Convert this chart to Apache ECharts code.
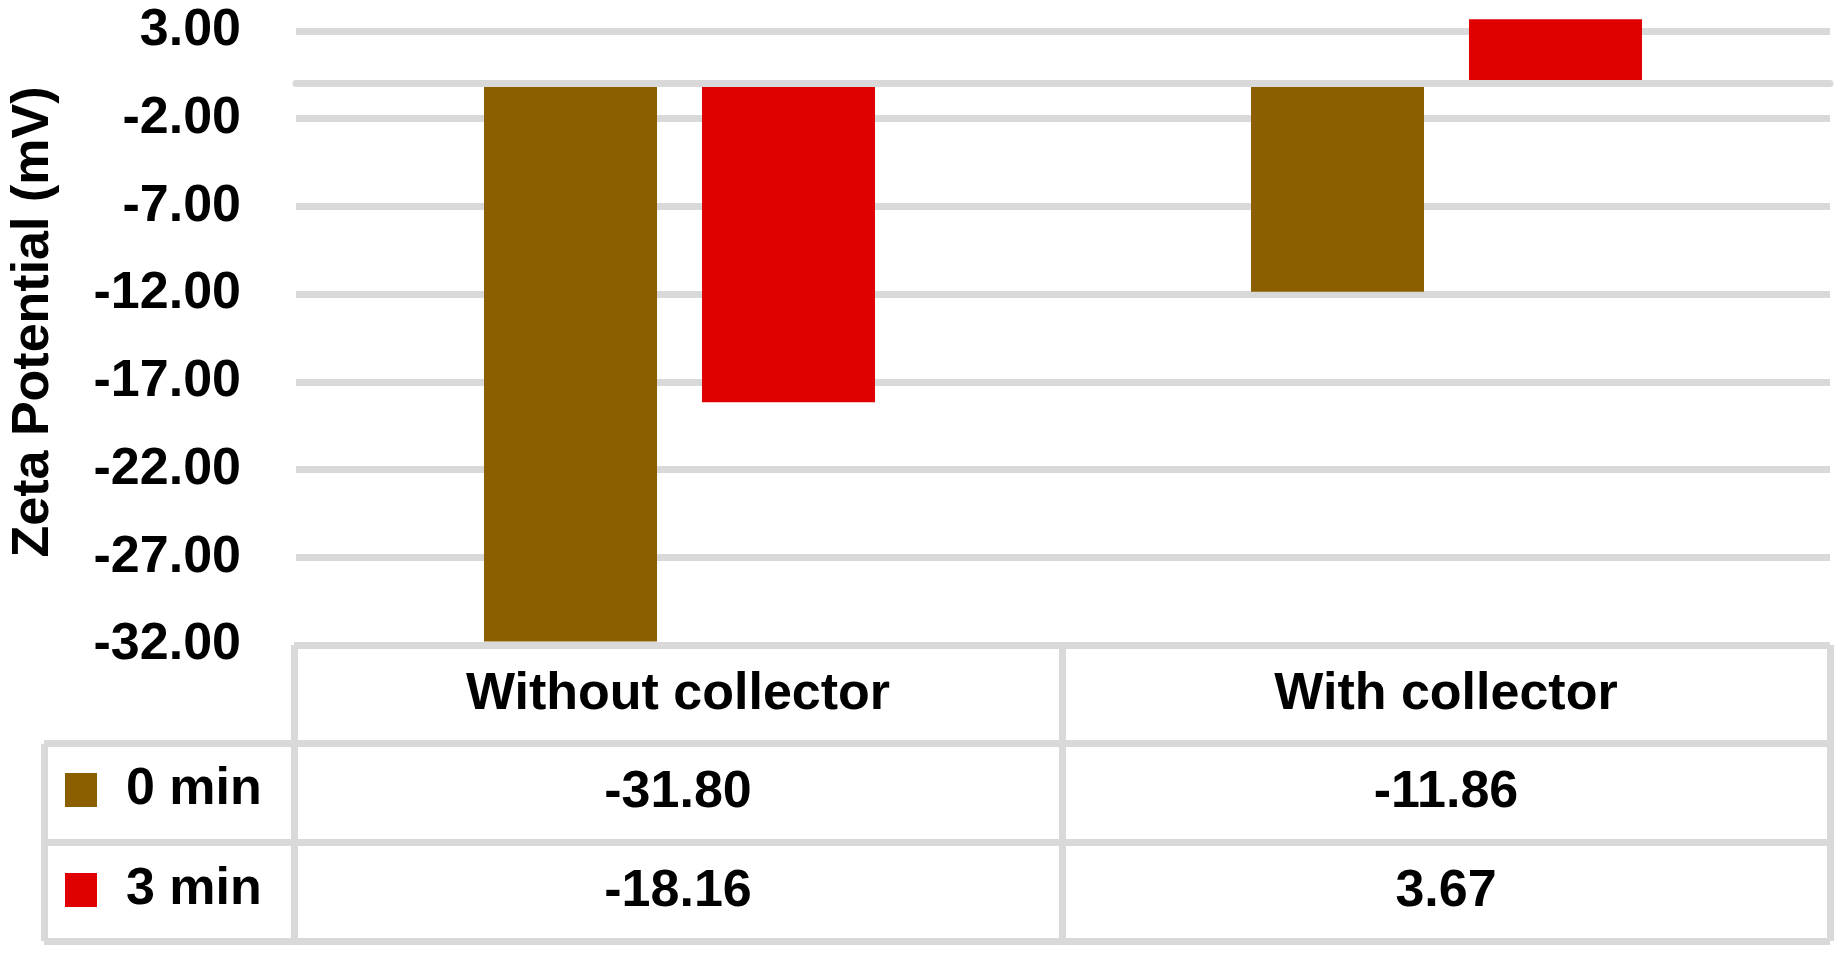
<!DOCTYPE html>
<html><head><meta charset="utf-8">
<script src="https://cdn.jsdelivr.net/npm/echarts@6/dist/echarts.min.js"></script>
<style>html,body{margin:0;padding:0;background:#fff}#c{width:1848px;height:957px}</style>
</head><body><div id="c"></div>
<script>
// ---- data ----
const categories = ['Without collector', 'With collector'];
const seriesNames = ['0 min', '3 min'];
const values0min = [-31.80, -11.86];
const values3min = [-18.16, 3.67];
const yMin = -32, yMax = 3, yStep = 5;
const tableRows = ['header', '0 min', '3 min'];
const yTitle = 'Zeta Potential (mV)';

// ---- style ----
const FONT = "'Liberation Sans', Arial, sans-serif";
const GRID_COLOR = '#d9d9d9';
const LINE_W = 7;
const colors = ['#8B5E00', '#E00000'];
const txt = {fontFamily: FONT, fontWeight: 'bold', fontSize: 52, color: '#000'};

const tableData = [];
categories.forEach((c, i) => {
  tableData.push({value: [c, 'header'], text: c});
  tableData.push({value: [c, seriesNames[0]], text: values0min[i].toFixed(2)});
  tableData.push({value: [c, seriesNames[1]], text: values3min[i].toFixed(2)});
});

const splitCat = {show: true, interval: 0, lineStyle: {color: GRID_COLOR, width: LINE_W}};
const hid = {axisLine: {show: false}, axisTick: {show: false}, axisLabel: {show: false}};

const chart = echarts.init(document.getElementById('c'), null, {renderer: 'canvas'});
chart.setOption({
  animation: false,
  backgroundColor: '#fff',
  color: colors,
  grid: [
    {left: 294, width: 1536, top: 31, height: 614},
    {left: 294, width: 1536, top: 645, height: 296},
    {left: 44, width: 250, top: 645 + 296 / 3, height: 296 * 2 / 3}
  ],
  legend: {
    data: seriesNames, orient: 'vertical', left: 65, top: 764,
    itemWidth: 32, itemHeight: 34, itemGap: 48, icon: 'rect', padding: 0,
    selectedMode: false,
    textStyle: Object.assign({}, txt, {lineHeight: 52, padding: [0, 0, 0, 24]})
  },
  xAxis: [
    {type: 'category', data: categories, gridIndex: 0, z: 5,
     axisLine: {onZero: true, lineStyle: {color: GRID_COLOR, width: LINE_W}},
     axisTick: {show: false}, axisLabel: {show: false}, splitLine: {show: false}},
    Object.assign({type: 'category', data: categories, gridIndex: 1, splitLine: splitCat}, hid),
    Object.assign({type: 'category', data: ['legend'], gridIndex: 2, splitLine: splitCat}, hid)
  ],
  yAxis: [
    {type: 'value', gridIndex: 0, min: yMin, max: yMax, interval: yStep,
     axisLine: {show: false}, axisTick: {show: false},
     axisLabel: Object.assign({}, txt, {margin: 55, formatter: v => v.toFixed(2)}),
     splitLine: {show: true, lineStyle: {color: GRID_COLOR, width: LINE_W}},
     name: yTitle, nameLocation: 'middle', nameGap: 236,
     nameTextStyle: Object.assign({}, txt, {lineHeight: 52, padding: [0, 0, 0, 32]})},
    Object.assign({type: 'category', data: tableRows, inverse: true, gridIndex: 1, splitLine: splitCat}, hid),
    Object.assign({type: 'category', data: seriesNames, inverse: true, gridIndex: 2, splitLine: splitCat}, hid)
  ],
  series: [
    {type: 'bar', name: seriesNames[0], data: values0min, xAxisIndex: 0, yAxisIndex: 0,
     barWidth: 173, barGap: '26%', clip: false, itemStyle: {color: colors[0]}},
    {type: 'bar', name: seriesNames[1], data: values3min, xAxisIndex: 0, yAxisIndex: 0,
     barWidth: 173, barGap: '26%', clip: false, itemStyle: {color: colors[1]}},
    {type: 'scatter', name: 'table', xAxisIndex: 1, yAxisIndex: 1, data: tableData,
     symbolSize: 0, silent: true, itemStyle: {opacity: 1},
     label: Object.assign({show: true, position: 'inside', opacity: 1, formatter: p => p.data.text}, txt)}
  ]
});
</script></body></html>
